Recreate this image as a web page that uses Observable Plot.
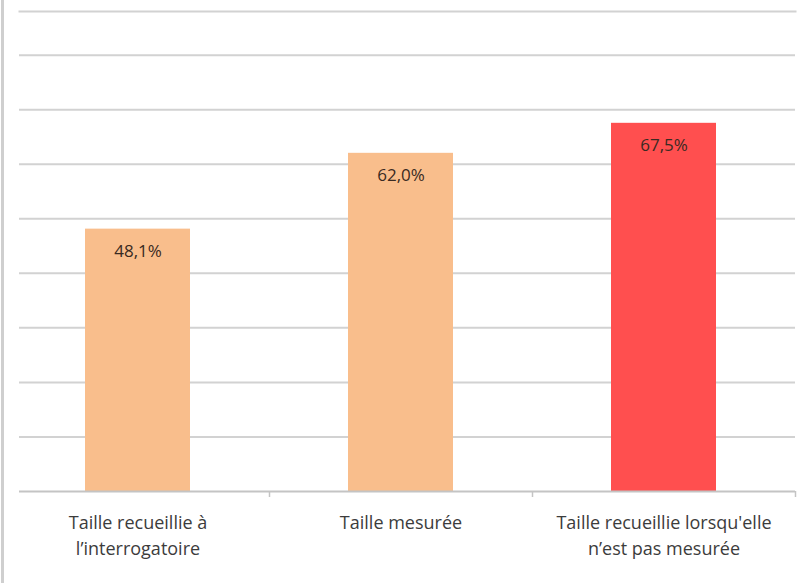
<!DOCTYPE html>
<html><head><meta charset="utf-8">
<script src="https://cdn.jsdelivr.net/npm/d3@7"></script>
<script src="https://cdn.jsdelivr.net/npm/@observablehq/plot@0.6"></script>
<style>
body{margin:0;background:#fff;}
#wrap{position:relative;width:802px;height:583px;}
#edge{position:absolute;left:1px;top:0;width:3px;height:583px;background:#cfcfcf;}
</style></head>
<body><div id="wrap"><div id="edge"></div></div>
<script>
const categories = ["Taille recueillie à\nl’interrogatoire", "Taille mesurée", "Taille recueillie lorsqu'elle\nn’est pas mesurée"];
const values = [48.1, 62.0, 67.5];
const colors = ["#F9BE8C", "#F9BE8C", "#FF4F4F"];
const gridTicks = [0, 10, 20, 30, 40, 50, 60, 70, 80];

const data = categories.map((c, i) => ({cat: c, value: values[i], color: colors[i]}));
const xRange = [6, 795];
const half = (xRange[1] - xRange[0]) / categories.length / 2;
const fmt = v => v.toFixed(1).replace(".", ",") + "%";

const chart = Plot.plot({
  width: 802, height: 583,
  marginTop: 11, marginBottom: 92, marginLeft: 19, marginRight: 7,
  style: {fontFamily: "Open Sans, sans-serif", background: "#fff"},
  x: {domain: categories, range: xRange, paddingInner: 0.6, paddingOuter: 0.3},
  y: {domain: [0, 88]},
  marks: [
    Plot.ruleY(gridTicks.slice(1), {stroke: "#d2d2d2", strokeWidth: 2}),
    Plot.frame({anchor: "top", stroke: "#d2d2d2", strokeWidth: 2}),
    Plot.barY(data, {x: "cat", y: "value", fill: "color"}),
    Plot.ruleY([0], {stroke: "#c4c4c4", strokeWidth: 2}),
    Plot.ruleX(categories, {x: d => d, dx: half, y1: 0, y2: 0, insetBottom: -6, stroke: "#c4c4c4", strokeWidth: 1.5}),
    Plot.text(data, {x: "cat", y: "value", text: d => fmt(d.value), dy: 22, fontSize: 17, fill: "#3a2a22"}),
    Plot.axisX({tickSize: 0, tickPadding: 19, fontSize: 18, lineHeight: 1.45, fill: "#3c3c3c", label: null}),
    Plot.axisY({ticks: [], label: null})
  ]
});
document.getElementById("wrap").appendChild(chart);
</script></body></html>
